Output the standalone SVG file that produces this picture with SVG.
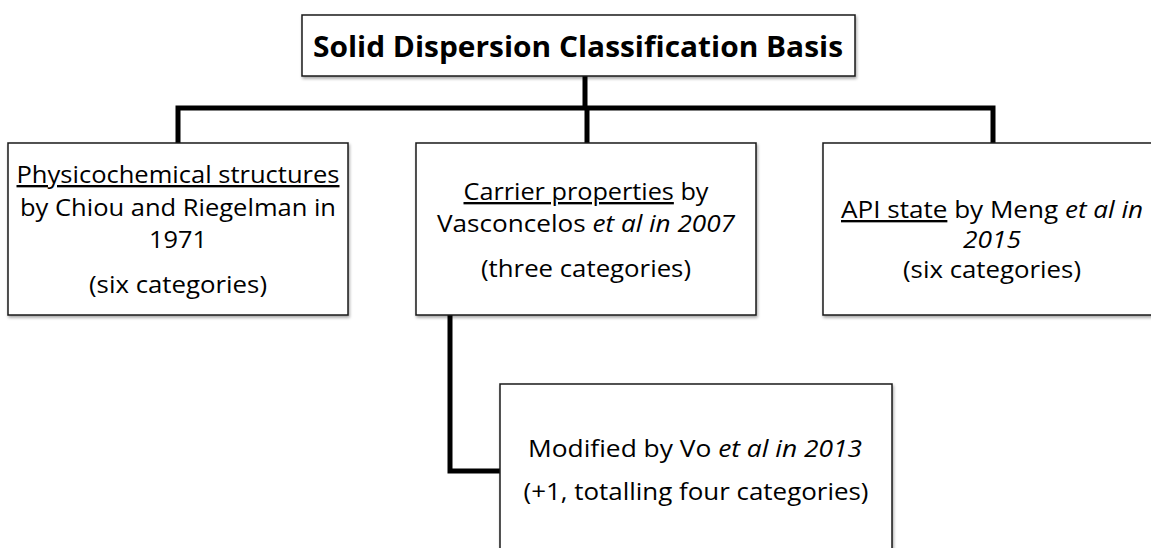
<svg xmlns="http://www.w3.org/2000/svg" width="1151" height="548" viewBox="0 0 1151 548">
<defs>
<filter id="sh" x="-5%" y="-5%" width="110%" height="115%">
<feDropShadow dx="1" dy="2" stdDeviation="1.5" flood-color="#000" flood-opacity="0.35"/>
</filter>
<style>
.box{fill:#fff;stroke:#1a1a1a;stroke-width:1.5;filter:url(#sh)}
.t{font-family:"Open Sans",Lato,"Liberation Sans",sans-serif;font-size:23.5px;fill:#000;text-anchor:middle;font-feature-settings:"liga" 0}
.b{font-weight:bold;font-size:29px}
.u{text-decoration:underline}
.i{font-style:italic}
.c{fill:none;stroke:#000;stroke-width:5;stroke-linejoin:miter;stroke-linecap:square}
</style>
</defs>
<rect width="1151" height="548" fill="#fff"/>
<g id="connectors">
<path class="c" d="M585 78 V108 M178 143 V108 H993 V143 M587 108 V143"/>
<path class="c" d="M450 317 V471 H500"/>
</g>
<g id="title">
<rect class="box" x="302" y="15" width="553" height="61"/>
<text class="t b" x="578" y="57" textLength="530" lengthAdjust="spacingAndGlyphs">Solid Dispersion Classification Basis</text>
</g>
<g id="physicochemical">
<rect class="box" x="8" y="143" width="340" height="172"/>
<text class="t" x="178" y="183" textLength="323" lengthAdjust="spacingAndGlyphs"><tspan class="u">Physicochemical structures</tspan></text>
<text class="t" x="178" y="216" textLength="316" lengthAdjust="spacingAndGlyphs">by Chiou and Riegelman in</text>
<text class="t" x="178" y="248" textLength="58" lengthAdjust="spacingAndGlyphs">1971</text>
<text class="t" x="178" y="293" textLength="178" lengthAdjust="spacingAndGlyphs">(six categories)</text>
</g>
<g id="carrier">
<rect class="box" x="416" y="143" width="340" height="172"/>
<text class="t" x="586" y="200" textLength="245" lengthAdjust="spacingAndGlyphs"><tspan class="u">Carrier properties</tspan> by</text>
<text class="t" x="586" y="232" textLength="298" lengthAdjust="spacingAndGlyphs">Vasconcelos <tspan class="i">et al in 2007</tspan></text>
<text class="t" x="586" y="277" textLength="210" lengthAdjust="spacingAndGlyphs">(three categories)</text>
</g>
<g id="api">
<rect class="box" x="823" y="143" width="340" height="172"/>
<text class="t" x="992" y="218" textLength="302" lengthAdjust="spacingAndGlyphs"><tspan class="u">API state</tspan> by Meng <tspan class="i">et al in</tspan></text>
<text class="t i" x="992" y="248" textLength="58" lengthAdjust="spacingAndGlyphs">2015</text>
<text class="t" x="992" y="278" textLength="178" lengthAdjust="spacingAndGlyphs">(six categories)</text>
</g>
<g id="modified">
<rect class="box" x="500" y="384" width="392" height="180"/>
<text class="t" x="695" y="457" textLength="334" lengthAdjust="spacingAndGlyphs">Modified by Vo <tspan class="i">et al in 2013</tspan></text>
<text class="t" x="696" y="500" textLength="345" lengthAdjust="spacingAndGlyphs">(+1, totalling four categories)</text>
</g>
</svg>
